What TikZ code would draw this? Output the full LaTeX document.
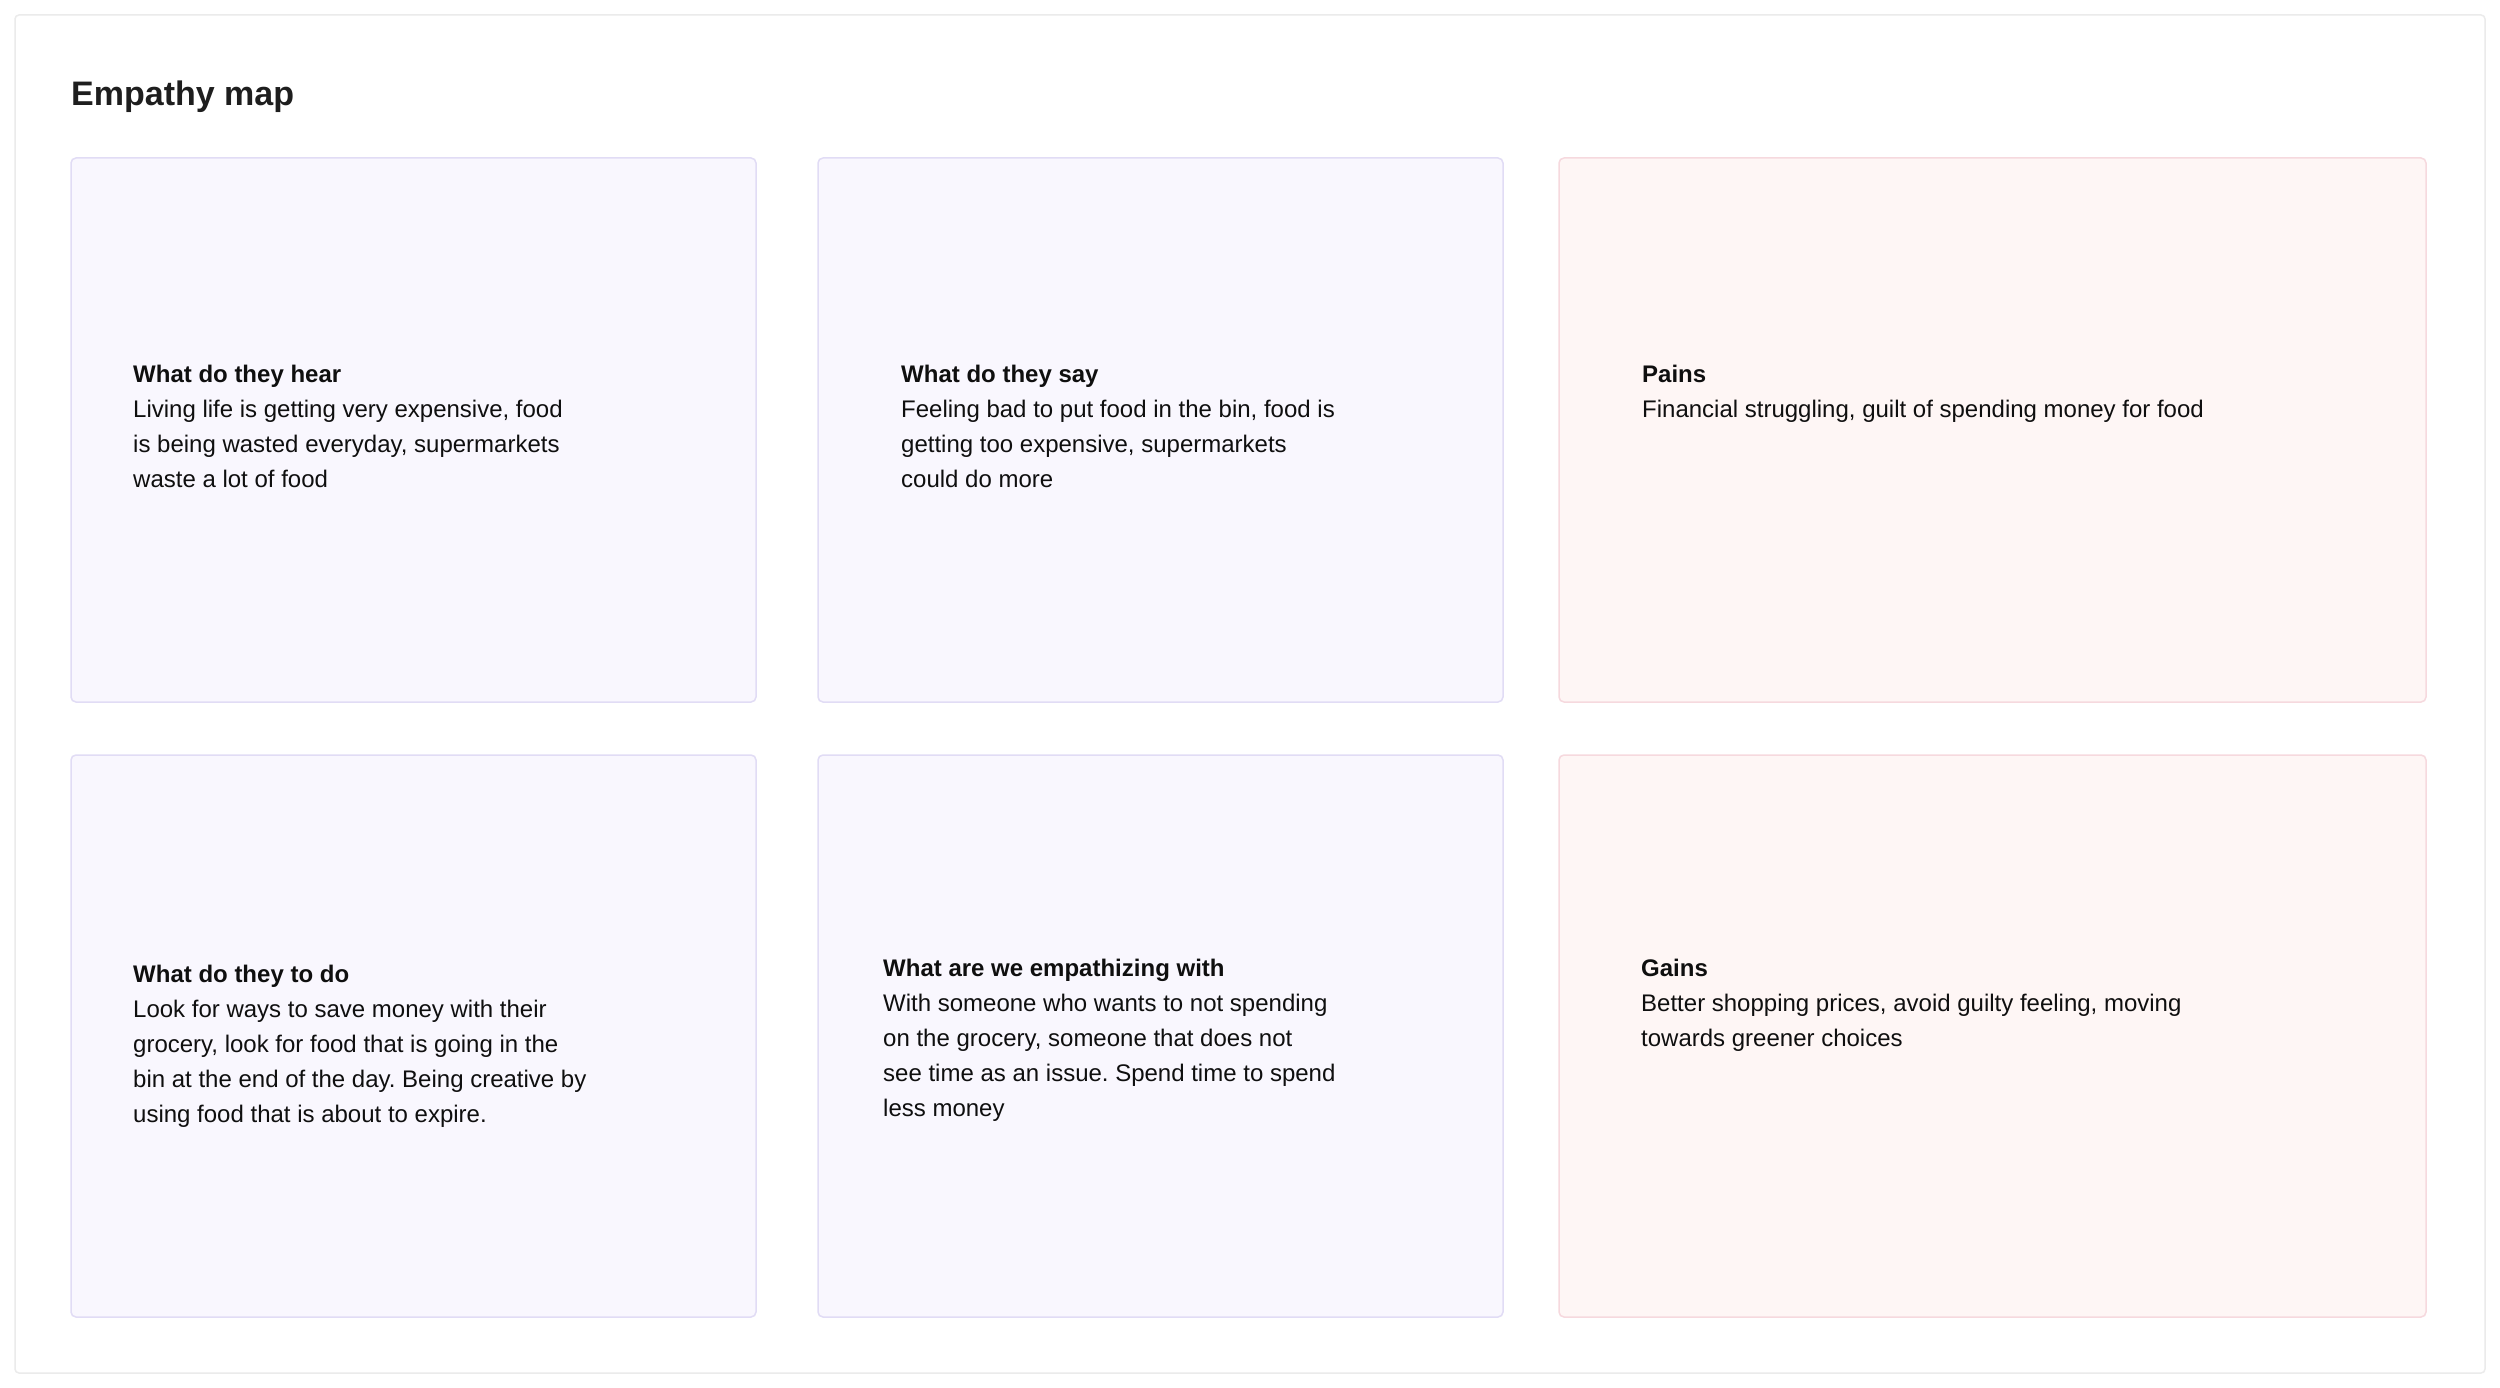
\documentclass[tikz,border=0pt]{standalone}
\usepackage{fontspec}
\setmainfont{Liberation Sans}
\frenchspacing
\definecolor{framecol}{HTML}{EBEBEB}
\definecolor{lavfill}{HTML}{F9F7FE}
\definecolor{lavline}{HTML}{E1DCF5}
\definecolor{pinkfill}{HTML}{FEF6F5}
\definecolor{pinkline}{HTML}{F6D9DE}
\definecolor{ink}{HTML}{0F0F0F}
\definecolor{titleink}{HTML}{1E1E1E}
\tikzset{
  frame/.style={draw=framecol, line width=1.5pt, fill=white, rounded corners=4pt},
  cardbox/.style={anchor=north west, inner sep=0pt, outer sep=0pt, line width=1.5pt, rounded corners=5pt},
  lavcard/.style={cardbox, draw=lavline, fill=lavfill},
  pinkcard/.style={cardbox, draw=pinkline, fill=pinkfill},
  txt/.style={anchor=base west, inner sep=0pt, text=ink, font=\fontsize{24}{35}\selectfont\frenchspacing},
  titletxt/.style={anchor=base west, inner sep=0pt, text=titleink, font=\fontsize{34}{40}\selectfont\bfseries}
}
\begin{document}
\begin{tikzpicture}[x=1pt,y=-1pt]
\useasboundingbox (0,0) rectangle (2500,1388);
\fill[white] (0,0) rectangle (2500,1388);
\draw[frame] (15,15) rectangle (2485,1373);

\node[titletxt] (title) at (71,106) {Empathy map};

% cards
\node[lavcard, minimum width=685pt, minimum height=544pt] (hear) at (71,158) {};
\node[lavcard, minimum width=685pt, minimum height=544pt] (say) at (818,158) {};
\node[pinkcard, minimum width=867pt, minimum height=544pt] (pains) at (1559,158) {};
\node[lavcard, minimum width=685pt, minimum height=562pt] (do) at (71,755) {};
\node[lavcard, minimum width=685pt, minimum height=562pt] (empath) at (818,755) {};
\node[pinkcard, minimum width=867pt, minimum height=562pt] (gains) at (1559,755) {};

% texts
\node[txt] (hearT) at (133,382) {\begin{tabular}[t]{@{}l@{}}\textbf{What do they hear}\\
Living life is getting very expensive, food\\
is being wasted everyday, supermarkets\\
waste a lot of food\end{tabular}};

\node[txt] (sayT) at (901,382) {\begin{tabular}[t]{@{}l@{}}\textbf{What do they say}\\
Feeling bad to put food in the bin, food is\\
getting too expensive, supermarkets\\
could do more\end{tabular}};

\node[txt] (painsT) at (1642,382) {\begin{tabular}[t]{@{}l@{}}\textbf{Pains}\\
Financial struggling, guilt of spending money for food\end{tabular}};

\node[txt] (doT) at (133,982) {\begin{tabular}[t]{@{}l@{}}\textbf{What do they to do}\\
Look for ways to save money with their\\
grocery, look for food that is going in the\\
bin at the end of the day. Being creative by\\
using food that is about to expire.\end{tabular}};

\node[txt] (empathT) at (883,976) {\begin{tabular}[t]{@{}l@{}}\textbf{What are we empathizing with}\\
With someone who wants to not spending\\
on the grocery, someone that does not\\
see time as an issue. Spend time to spend\\
less money\end{tabular}};

\node[txt] (gainsT) at (1641,976) {\begin{tabular}[t]{@{}l@{}}\textbf{Gains}\\
Better shopping prices, avoid guilty feeling, moving\\
towards greener choices\end{tabular}};
\end{tikzpicture}
\end{document}
